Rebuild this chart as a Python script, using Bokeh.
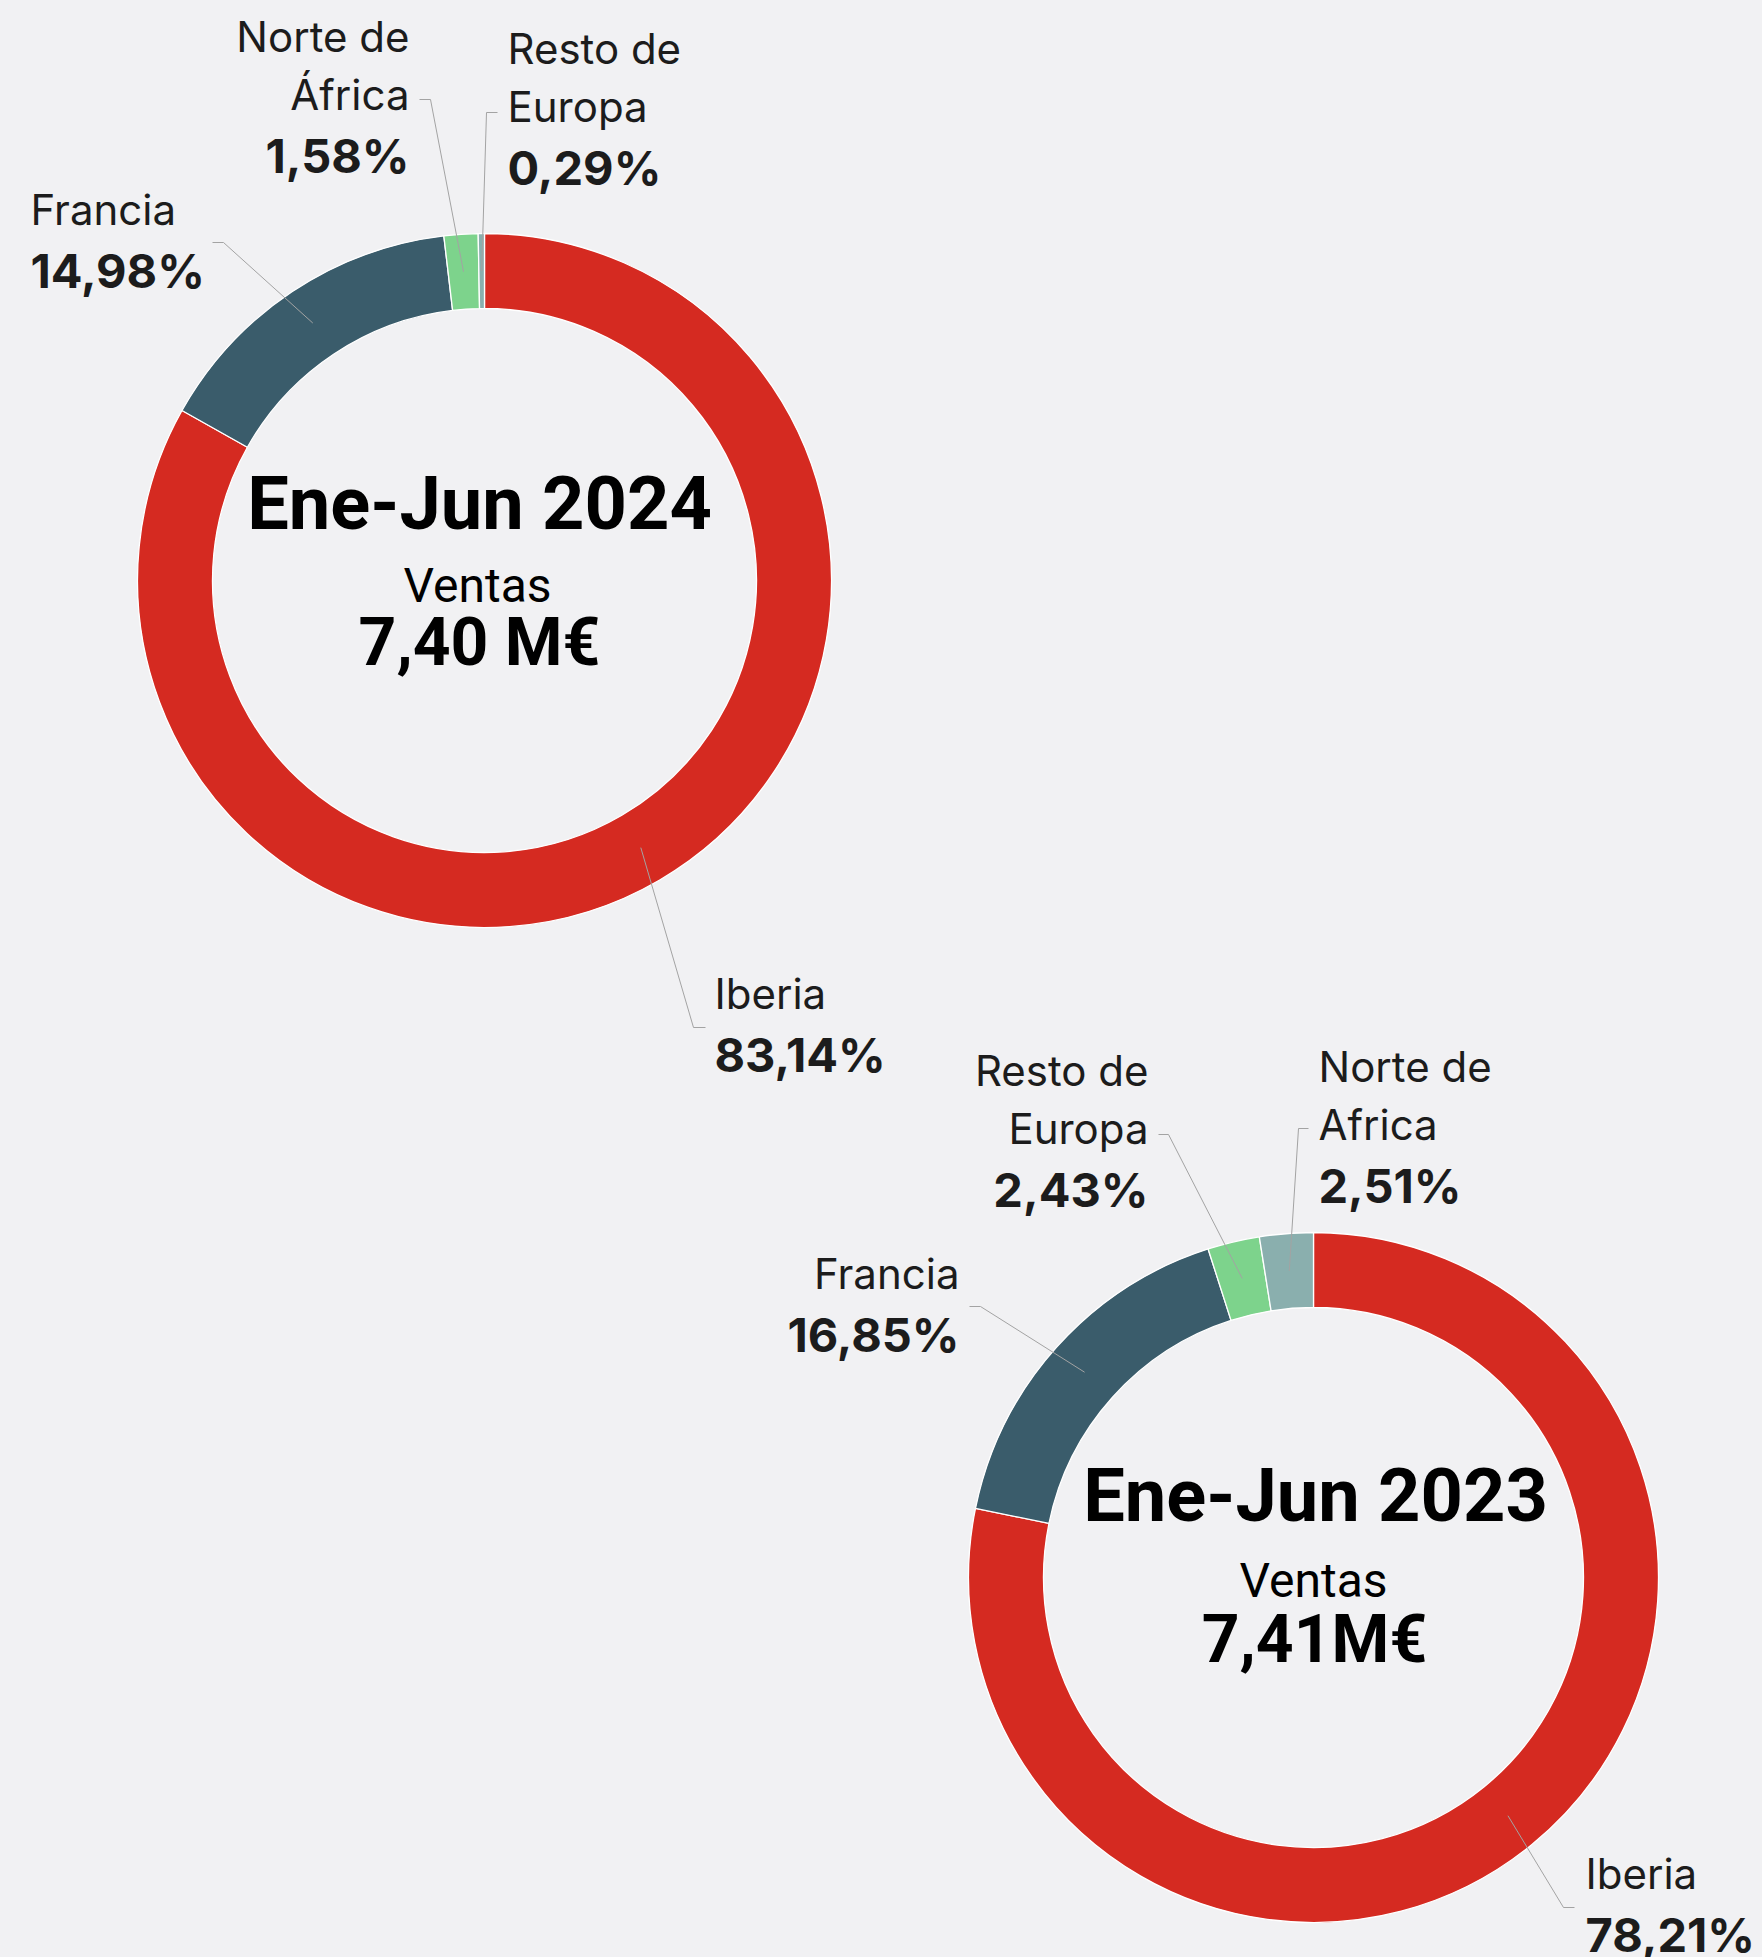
import math
from bokeh.plotting import figure
from bokeh.models import Range1d, ColumnDataSource
from bokeh.core.properties import value
from bokeh.embed import file_html
from bokeh.resources import INLINE

# ---------------- data ----------------
regions_2024 = ["Iberia", "Francia", "Norte de África", "Resto de Europa"]
shares_2024 = [83.14, 14.98, 1.58, 0.29]
label_lines_2024 = [["Iberia"], ["Francia"], ["Norte de", "África"], ["Resto de", "Europa"]]
title_2024 = "Ene-Jun 2024"
sales_2024 = "7,40 M€"

regions_2023 = ["Iberia", "Francia", "Resto de Europa", "Norte de Africa"]
shares_2023 = [78.21, 16.85, 2.43, 2.51]
label_lines_2023 = [["Iberia"], ["Francia"], ["Resto de", "Europa"], ["Norte de", "Africa"]]
title_2023 = "Ene-Jun 2023"
sales_2023 = "7,41M€"

sales_caption = "Ventas"

# ---------------- style ----------------
BG = "#F1F1F3"
SLICE_COLORS = ["#D52A21", "#3A5C6B", "#7DD38C", "#8AAFAE"]
LEADER = "#A3A3A3"
LABEL_COLOR = "#1C1C1C"
W, H = 1762, 1957

p = figure(width=W, height=H, output_backend="svg", toolbar_location=None,
           x_range=Range1d(0, W), y_range=Range1d(-H, 0),
           min_border=0, outline_line_color=None,
           background_fill_color=BG, border_fill_color=BG)
p.axis.visible = False
p.grid.visible = False

INTER_SHIFT = 0.40   # empirical baseline correction (fraction of font size)
ROBOTO_SHIFT = 0.37


def fmt_pct(v):
    return f"{v:.2f}".replace(".", ",") + "%"


def put_text(x, ys, texts, font, size, shift, align, bold=False, color=LABEL_COLOR):
    p.text(x=[x] * len(texts), y=[-(yy - shift * size) for yy in ys], text=texts,
           text_font=value(font), text_font_size=f"{size}px",
           text_font_style="bold" if bold else "normal",
           text_align=align, text_baseline="alphabetic", text_color=color)


def donut(cx, cy, r_in, r_out, shares, label_lines, layout, center):
    total = sum(shares)
    cum = 0.0
    starts, ends, mids = [], [], []
    for s in shares:
        a0 = cum / total * 360.0
        cum += s
        a1 = cum / total * 360.0
        starts.append(math.radians(90 - a1))
        ends.append(math.radians(90 - a0))
        mids.append((a0 + a1) / 2.0)
    src = ColumnDataSource(dict(start=starts, end=ends, color=SLICE_COLORS[:len(shares)]))
    p.annular_wedge(x=cx, y=-cy, inner_radius=r_in, outer_radius=r_out,
                    start_angle="start", end_angle="end", fill_color="color",
                    line_color="white", line_width=1.3, source=src)

    r_mid = (r_in + r_out) / 2.0
    for i, s in enumerate(shares):
        tx, ty, align, ex, ey, hx = layout[i]
        th = math.radians(mids[i])
        sx = cx + r_mid * math.sin(th)
        sy = cy - r_mid * math.cos(th)
        p.line(x=[sx, ex, hx], y=[-sy, -ey, -ey], line_color=LEADER, line_width=1)
        lines = label_lines[i]
        ys = [ty + 58 * k for k in range(len(lines))]
        put_text(tx, ys, lines, "Inter", 42, INTER_SHIFT, align)
        put_text(tx, [ys[-1] + 63], [fmt_pct(s)], "Inter", 47, INTER_SHIFT, align, bold=True)

    (t, tx, ty), (c, vx, vy), (v, wx, wy) = center
    put_text(tx, [ty], [t], "Roboto", 74, ROBOTO_SHIFT, "center", bold=True, color="#000000")
    put_text(vx, [vy], [c], "Roboto", 48, ROBOTO_SHIFT, "center", color="#000000")
    put_text(wx, [wy], [v], "Roboto", 66, ROBOTO_SHIFT, "center", bold=True, color="#000000")


# layout: (text x, first baseline, align, elbow x, elbow y, end x)
layout_2024 = [
    (714, 1010, "left", 693, 1027, 705),
    (30, 226, "left", 223, 242, 212),
    (409, 53, "right", 430, 99, 419),
    (507, 65, "left", 486, 112, 497),
]
layout_2023 = [
    (1585, 1890, "left", 1563, 1907, 1574),
    (959, 1290, "right", 980, 1306, 969),
    (1148, 1087, "right", 1168, 1134, 1158),
    (1318, 1083, "left", 1298, 1128, 1308),
]

donut(484, 580, 272, 347, shares_2024, label_lines_2024, layout_2024,
      [(title_2024, 479, 530), (sales_caption, 477, 603), (sales_2024, 479, 666)])
donut(1313, 1577, 270, 345, shares_2023, label_lines_2023, layout_2023,
      [(title_2023, 1315, 1522), (sales_caption, 1313, 1598), (sales_2023, 1314, 1663)])

html = file_html(p, INLINE)
html = html.replace("<head>", "<head><style>html,body{background:%s;overflow:hidden}</style>" % BG, 1)
open("out.html", "w").write(html)
